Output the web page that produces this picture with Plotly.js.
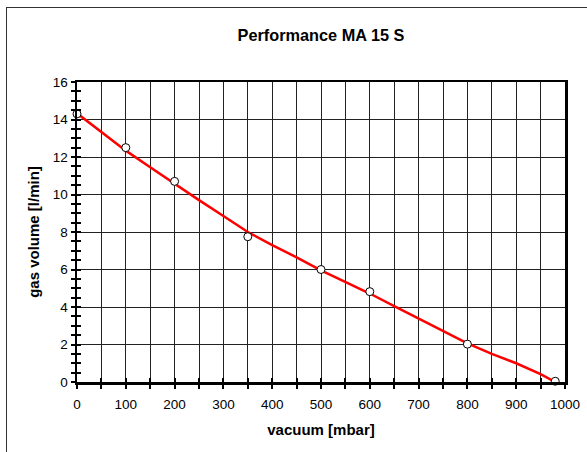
<!DOCTYPE html>
<html>
<head>
<meta charset="utf-8">
<script src="https://cdn.plot.ly/plotly-3.0.1.min.js"></script>
<style>
html,body{margin:0;padding:0;background:#fff;}
#wrap{position:relative;width:587px;height:452px;overflow:hidden;}
#chart{position:absolute;left:0;top:0;width:587px;height:452px;}
#frame{position:absolute;left:6px;top:7px;width:700px;height:600px;border-left:1px solid #333;border-top:1px solid #333;pointer-events:none;}
</style>
</head>
<body>
<div id="wrap"><div id="chart"></div><div id="frame"></div></div>
<script>
// measured points
const vacuum = [0, 100, 200, 350, 500, 600, 800, 980];
const gasVolume = [14.3, 12.5, 10.7, 7.75, 6.0, 4.82, 2.02, 0.04];
// red fitted curve
const fitVacuum = [0, 50, 100, 150, 200, 250, 300, 350, 400, 450, 500, 550, 600, 650, 700, 750, 800, 850, 900, 950, 980];
const fitVolume = [14.33, 13.35, 12.34, 11.45, 10.56, 9.7, 8.85, 8.0, 7.3, 6.65, 5.95, 5.33, 4.72, 4.05, 3.4, 2.74, 2.06, 1.5, 1.0, 0.42, 0.0];

const titleText = 'Performance MA 15 S';
const xTitle = 'vacuum [mbar]';
const yTitle = 'gas volume [l/min]';

const font = 'Liberation Sans, Arial, sans-serif';

const traces = [
  {x: fitVacuum, y: fitVolume, type: 'scatter', mode: 'lines',
   line: {color: '#ff0000', width: 2.5}, hoverinfo: 'skip', cliponaxis: false},
  {x: vacuum, y: gasVolume, type: 'scatter', mode: 'markers',
   marker: {symbol: 'circle', size: 8, color: '#ffffff', line: {color: '#000', width: 1}},
   cliponaxis: false}
];

const common = {linecolor: '#000', linewidth: 2.5, ticklen: 4, tickwidth: 2, tickcolor: '#000', zeroline: false};

const layout = {
  width: 587, height: 452,
  margin: {l: 77, r: 22, t: 82, b: 70},
  paper_bgcolor: '#fff', plot_bgcolor: '#fff',
  showlegend: false,
  font: {family: font, color: '#000', size: 13.5},
  title: {text: '<b>' + titleText + '</b>', font: {family: font, size: 16.3, color: '#000'},
          x: 0.5, xref: 'paper', xanchor: 'center', y: 1 - 35/452, yref: 'container', yanchor: 'middle'},
  xaxis: Object.assign({}, common, {
    range: [0, 1000], dtick: 100, tick0: 0, ticks: 'outside', mirror: true, showline: true,
    showgrid: true, gridcolor: '#222', gridwidth: 1,
    minor: {dtick: 50, ticks: 'outside', ticklen: 4, tickwidth: 2, tickcolor: '#000', showgrid: true, gridcolor: '#222', gridwidth: 1},
    tickfont: {size: 13.5}, ticklabelstandoff: 4, fixedrange: true,
    title: {text: '<b>' + xTitle + '</b>', font: {size: 15}, standoff: 14}
  }),
  xaxis2: Object.assign({}, common, {
    range: [0, 1000], dtick: 100, tick0: 0, ticks: 'inside', overlaying: 'x', side: 'bottom',
    showline: false, showgrid: false, showticklabels: false,
    minor: {dtick: 50, ticks: 'inside', ticklen: 4, tickwidth: 2, tickcolor: '#000', showgrid: false}
  }),
  yaxis: Object.assign({}, common, {
    range: [0, 16], dtick: 2, tick0: 0, ticks: 'outside', mirror: true, showline: true,
    showgrid: true, gridcolor: '#222', gridwidth: 1,
    minor: {dtick: 0.5, ticks: 'outside', ticklen: 4, tickwidth: 2, tickcolor: '#000', showgrid: false},
    tickfont: {size: 13.5}, fixedrange: true,
    title: {text: '<b>' + yTitle + '</b>', font: {size: 15}, standoff: 10}
  }),
  yaxis2: Object.assign({}, common, {
    range: [0, 16], dtick: 2, tick0: 0, ticks: 'inside', overlaying: 'y', side: 'left',
    showline: false, showgrid: false, showticklabels: false,
    minor: {dtick: 0.5, ticks: 'inside', ticklen: 4, tickwidth: 2, tickcolor: '#000', showgrid: false}
  })
};

// invisible trace to activate the overlay axes that carry the inner tick halves
traces.push({x: [0], y: [0], xaxis: 'x2', yaxis: 'y2', mode: 'markers', marker: {opacity: 0}, hoverinfo: 'skip', showlegend: false});

Plotly.newPlot('chart', traces, layout, {staticPlot: true, displayModeBar: false});
</script>
</body>
</html>
